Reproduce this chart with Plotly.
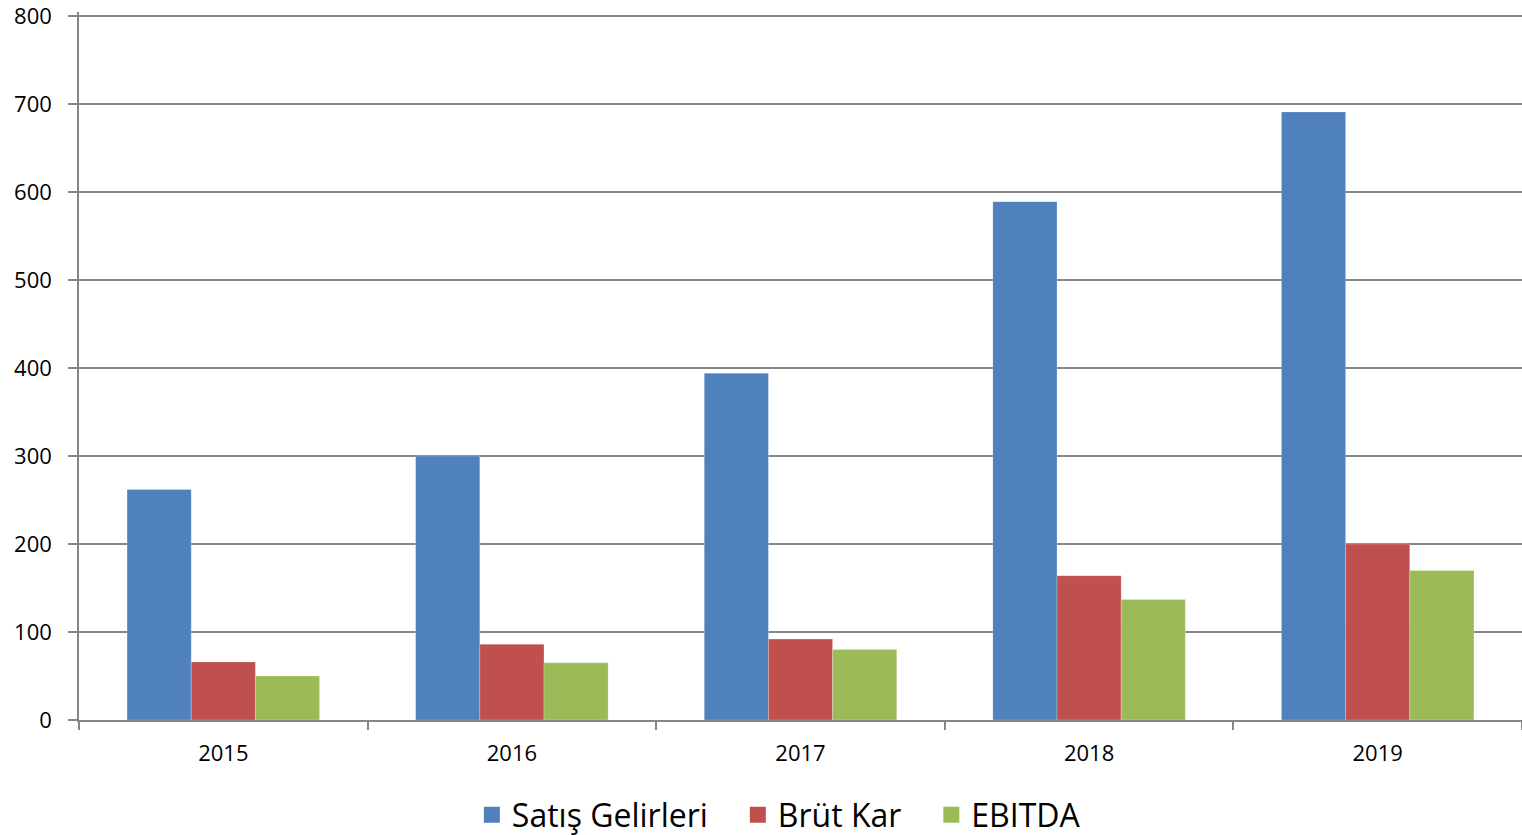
import plotly.graph_objects as go

years = ["2015", "2016", "2017", "2018", "2019"]
satis = [262, 300, 394, 589, 691]
brut = [66, 86, 92, 164, 200]
ebitda = [50, 65, 80, 137, 170]
y_ticks = [0, 100, 200, 300, 400, 500, 600, 700, 800]

names = ["Satış Gelirleri", "Brüt Kar", "EBITDA"]
values = [satis, brut, ebitda]
colors = ["#4F81BD", "#C0504D", "#9BBB59"]

fig = go.Figure()
for name, vals, col in zip(names, values, colors):
    fig.add_trace(go.Bar(
        x=years, y=vals, name=name, showlegend=False,
        marker=dict(color=col, line=dict(color="rgba(255,255,255,0.4)", width=0.6)),
    ))
# legend entries with larger square swatches
for i, (name, col) in enumerate(zip(names, colors)):
    pad = "\u00a0\u00a0\u00a0" if i < len(names) - 1 else ""
    fig.add_trace(go.Scatter(
        x=[None], y=[None], mode="markers", name=name + pad,
        marker=dict(symbol="square", size=20, color=col), showlegend=True,
    ))

fig.update_layout(
    width=1522, height=835,
    margin=dict(l=79, r=0, t=12, b=115, autoexpand=False),
    paper_bgcolor="white", plot_bgcolor="white",
    barmode="group", bargap=0.333, bargroupgap=0,
    font=dict(family="Open Sans, Liberation Sans, sans-serif", color="black", size=22),
    legend=dict(orientation="h", x=0.485, xanchor="center", y=-0.134, yanchor="middle",
                font=dict(size=32), itemsizing="trace", traceorder="normal"),
)
fig.update_xaxes(
    type="category", showline=True, linecolor="#868686", linewidth=1.5,
    ticks="outside", tickson="boundaries", ticklen=8, tickcolor="#868686", tickwidth=1.5,
    tickfont=dict(size=22), showgrid=False, ticklabelstandoff=13,
)
fig.update_yaxes(
    range=[0, 804.5], tickvals=y_ticks, showline=True, linecolor="#868686", linewidth=1.5,
    ticks="outside", ticklen=9, tickcolor="#868686", tickwidth=1.5,
    showgrid=True, gridcolor="#868686", gridwidth=1.5, zeroline=False,
    tickfont=dict(size=22), ticklabelstandoff=12, ticklabeloverflow="allow",
)

fig.write_html("out.html", config={"displayModeBar": False},
               post_script="document.body.style.margin='0';")
